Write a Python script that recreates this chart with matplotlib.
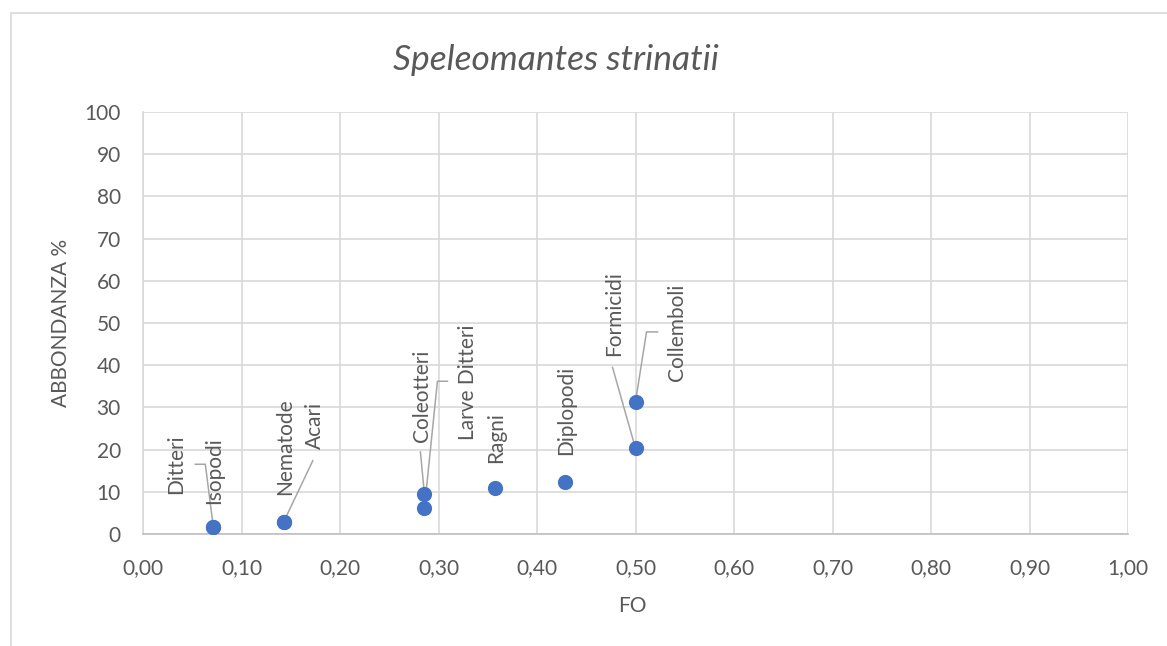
import matplotlib.pyplot as plt
from matplotlib.patches import Rectangle
from matplotlib.transforms import offset_copy

plt.rcParams['font.family'] = ['Lato', 'DejaVu Sans']

# Data
labels = ["Ditteri", "Isopodi", "Nematode", "Acari", "Coleotteri",
          "Larve Ditteri", "Ragni", "Diplopodi", "Formicidi", "Collemboli"]
fo = [0.0714, 0.0714, 0.1429, 0.1429, 0.2857, 0.2857, 0.3571, 0.4286, 0.5, 0.5]
abbondanza = [1.6, 1.6, 2.9, 2.9, 9.5, 6.1, 10.9, 12.4, 20.3, 31.3]

xticks = [i / 10 for i in range(11)]
xticklabels = [("%.2f" % t).replace(".", ",") for t in xticks]
yticks = list(range(0, 101, 10))

# label offsets from the point (pixels) and leader-line paths (pixels)
label_off = [(-37, 63), (1, 57), (1, 75), (31, 96), (-2, 98),
             (44, 126), (1, 50), (1, 71), (-21, 135), (42, 70)]
leaders = {
    "Ditteri": [(-18, 63), (-8, 63), (0, 0)],
    "Acari": [(29, 61), (0, 0)],
    "Coleotteri": [(-4, 42), (0, 0)],
    "Larve Ditteri": [(23, 127), (13, 127), (0, 0)],
    "Formicidi": [(-23, 81), (0, 0)],
    "Collemboli": [(22, 70), (11, 70), (0, 0)],
}

txt = "#595959"
grid = "#d9d9d9"
px = 0.72  # points per pixel at dpi 100

fig = plt.figure(figsize=(11.67, 6.46), dpi=100)
fig.patches.append(Rectangle((11 / 1167, -0.1), 1.2, 1 - 13 / 646 + 0.1,
                             transform=fig.transFigure, fill=False,
                             edgecolor=grid, lw=1.2))
ax = fig.add_axes([143 / 1167, 1 - 534 / 646, (1128 - 143) / 1167, (534 - 112) / 646])

ax.set_xlim(0, 1)
ax.set_ylim(0, 100)
ax.set_xticks(xticks)
ax.set_xticklabels(xticklabels)
ax.set_yticks(yticks)
ax.grid(True, color=grid, lw=1.2)
ax.set_axisbelow(True)
for s in ["top", "right"]:
    ax.spines[s].set_visible(False)
ax.spines["left"].set_color(grid)
ax.spines["bottom"].set_color("#bfbfbf")
ax.spines["left"].set_linewidth(1.2)
ax.spines["bottom"].set_linewidth(1.2)
ax.tick_params(length=0, labelsize=15, labelcolor=txt)
ax.tick_params(axis="x", pad=17)
ax.tick_params(axis="y", pad=16)

inv = ax.transData.inverted()
for i, name in enumerate(labels):
    if name in leaders:
        pts = leaders[name]
        trs = [offset_copy(ax.transData, fig=fig, x=dx * px, y=dy * px, units="points")
               for dx, dy in pts]
        data_pts = [inv.transform(t.transform((fo[i], abbondanza[i]))) for t in trs]
        ax.plot([p[0] for p in data_pts], [p[1] for p in data_pts],
                color="#a6a6a6", lw=1.1, zorder=2, clip_on=False)

ax.scatter(fo, abbondanza, s=120, color="#4472C4", zorder=3, linewidths=0)

for i, name in enumerate(labels):
    dx, dy = label_off[i]
    ax.annotate(name, (fo[i], abbondanza[i]), xytext=(dx * px, dy * px),
                textcoords="offset points", rotation=90, ha="center", va="center",
                fontsize=15, color=txt)

ax.set_xlabel("FO", fontsize=15, color=txt, va="center")
ax.xaxis.set_label_coords(0.5 + (632 - 635.5) / 985, -(606 - 534) / 422)
ax.set_ylabel("ABBONDANZA %", fontsize=15, color=txt, va="center")
ax.yaxis.set_label_coords(-(143 - 61) / 985, 0.5)
fig.text(556 / 1167, 1 - 60 / 646, "Speleomantes strinatii", fontsize=25.5,
         style="italic", color=txt, ha="center", va="center")

fig.savefig("out.png", dpi=100)
